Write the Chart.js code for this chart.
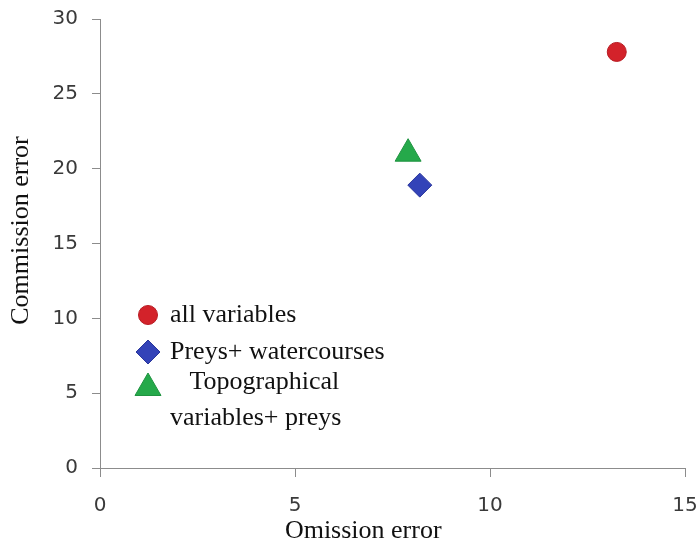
<!DOCTYPE html>
<html>
<head>
<meta charset="utf-8">
<script src="https://cdn.jsdelivr.net/npm/chart.js@4"></script>
<style>
  html, body { margin: 0; padding: 0; background: #fff; overflow: hidden; }
  #chart { display: block; }
</style>
</head>
<body>
<canvas id="chart" width="701" height="549"></canvas>
<script>
// data
const seriesNames = ['all variables', 'Preys+ watercourses', ['   Topographical', 'variables+ preys']];
const omission = [13.25, 8.2, 7.9];
const commission = [27.8, 18.9, 21.0];
const xTicks = [0, 5, 10, 15];
const yTicks = [0, 5, 10, 15, 20, 25, 30];

const colors = ['#d3222a', '#3343b8', '#25a94a'];
const borders = ['#b81c23', '#2a369c', '#1f9340'];
const shapes = ['circle', 'rectRot', 'triangle'];
const sizes = [9.5, 12, 15];

const axisGrey = '#8c8c8c';
const serif = '"Liberation Serif", "Times New Roman", serif';
const sans = '"DejaVu Sans", Verdana, sans-serif';

// legend drawn inside the plot area, lower left
const insideLegend = {
  id: 'insideLegend',
  afterDraw(chart) {
    const ctx = chart.ctx;
    const area = chart.chartArea;
    const markX = area.left + 48;
    const textX = area.left + 70;
    const rows = [315, 352, 388];
    ctx.save();
    ctx.font = '26px ' + serif;
    ctx.textBaseline = 'middle';
    chart.data.datasets.forEach((ds, i) => {
      const y = rows[i];
      ctx.fillStyle = ds.backgroundColor;
      ctx.strokeStyle = ds.borderColor;
      ctx.lineWidth = 1;
      Chart.helpers.drawPoint(ctx, {
        pointStyle: ds.pointStyle,
        radius: ds.pointRadius,
        borderWidth: 1
      }, markX, y);
      ctx.fillStyle = '#111';
      const lines = Array.isArray(ds.label) ? ds.label : [ds.label];
      lines.forEach((t, k) => {
        ctx.fillText(t, textX, y - (lines.length > 1 ? 6 : 0) + k * 36);
      });
    });
    ctx.restore();
  }
};

new Chart(document.getElementById('chart'), {
  type: 'scatter',
  data: {
    datasets: seriesNames.map((name, i) => ({
      label: name,
      data: [{ x: omission[i], y: commission[i] }],
      backgroundColor: colors[i],
      borderColor: borders[i],
      pointStyle: shapes[i],
      pointRadius: sizes[i],
      pointHoverRadius: sizes[i],
      borderWidth: 1
    }))
  },
  options: {
    responsive: false,
    animation: false,
    layout: { padding: { top: 19, right: 0, bottom: 0, left: 0 } },
    plugins: {
      legend: { display: false },
      tooltip: { enabled: false }
    },
    scales: {
      x: {
        type: 'linear',
        min: 0,
        max: 15,
        afterBuildTicks: s => { s.ticks = xTicks.map(v => ({ value: v })); },
        afterFit: s => { s.height = 81; s.paddingLeft = 0; s.paddingRight = 0; },
        grid: { drawOnChartArea: false, drawTicks: true, tickLength: 9, color: axisGrey },
        border: { color: axisGrey, width: 1 },
        ticks: { color: '#3a3a3a', padding: 17, font: { family: sans, size: 20 } },
        title: {
          display: true,
          text: 'Omission error         ',
          color: '#111',
          padding: { top: 0, bottom: 2 },
          font: { family: serif, size: 26 }
        }
      },
      y: {
        type: 'linear',
        min: 0,
        max: 30,
        afterBuildTicks: s => { s.ticks = yTicks.map(v => ({ value: v })); },
        afterFit: s => { s.width = 100; s.paddingTop = 0; s.paddingBottom = 0; },
        grid: { drawOnChartArea: false, drawTicks: true, tickLength: 8, color: axisGrey },
        border: { color: axisGrey, width: 1 },
        ticks: { color: '#3a3a3a', padding: 14, font: { family: sans, size: 20 } },
        title: {
          display: true,
          text: '    Commission error',
          color: '#111',
          padding: { top: 6, bottom: 0 },
          font: { family: serif, size: 26 }
        }
      }
    }
  },
  plugins: [insideLegend]
});
</script>
</body>
</html>
